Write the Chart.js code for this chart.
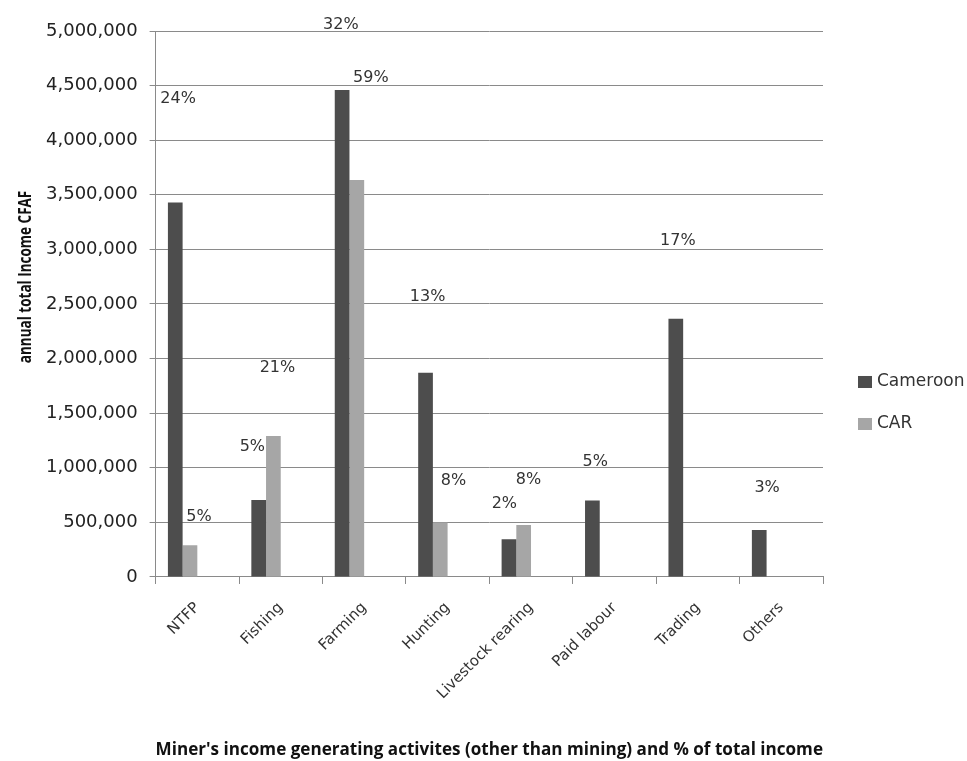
<!DOCTYPE html>
<html>
<head>
<meta charset="utf-8">
<script src="https://cdn.jsdelivr.net/npm/chart.js@4.4.1/dist/chart.umd.min.js"></script>
<style>
  html, body { margin: 0; padding: 0; background: #fff; }
  .chart-wrap { width: 967px; height: 761px; }
</style>
</head>
<body>
<div class="chart-wrap"><canvas id="incomeChart"></canvas></div>
<script>
/* income per activity, CFAF */
const categories = ['NTFP', 'Fishing', 'Farming', 'Hunting', 'Livestock rearing', 'Paid labour', 'Trading', 'Others'];
const cameroon   = [3430000, 705000, 4460000, 1870000, 345000, 700000, 2365000, 430000];
const car        = [290000, 1290000, 3635000, 500000, 475000, null, null, null];

/* % of total income, as typed on the chart, and the height (CFAF) where each one sits */
const cameroonShare  = ['24%', '5%', '32%', '13%', '2%', '5%', '17%', '3%'];
const cameroonShareY = [4380000, 1190000, 5055000, 2565000, 670000, 1055000, 3075000, 815000];
const carShare       = ['5%', '21%', '59%', '8%', '8%', null, null, null];
const carShareY      = [550000, 1915000, 4570000, 880000, 890000, null, null, null];

const yMax = 5000000;
const yStep = 500000;
const yTitle = 'annual total Income CFAF';
const xTitle = "Miner's income generating activites (other than mining) and % of total income";

/* the original had two more (empty) series, so bars sit left of centre */
const spacer = categories.map(() => null);

const GRID = '#8a8a8a';
const TEXT = '#333333';

/* horizontal nudge of each % label, in category widths */
const camDx = [-0.23, -0.34, -0.28, -0.24, -0.32, -0.23, -0.24, -0.17];
const carDx = [0.02, -0.04, 0.08, 0.07, -0.03, 0, 0, 0];

const shareLabels = {
  id: 'shareLabels',
  afterDatasetsDraw(chart) {
    const { ctx, scales: { x, y } } = chart;
    const w = x.getPixelForValue(1) - x.getPixelForValue(0);
    ctx.save();
    ctx.font = '16px "DejaVu Sans"';
    ctx.fillStyle = TEXT;
    ctx.textAlign = 'center';
    ctx.textBaseline = 'middle';
    categories.forEach((c, i) => {
      const cx = x.getPixelForValue(i);
      if (cameroonShare[i]) ctx.fillText(cameroonShare[i], cx + camDx[i] * w, y.getPixelForValue(cameroonShareY[i]));
      if (carShare[i]) ctx.fillText(carShare[i], cx + carDx[i] * w, y.getPixelForValue(carShareY[i]));
    });
    ctx.restore();
  }
};

/* legend to the right of the plot + the y title, which Excel had put above the middle */
const extras = {
  id: 'extras',
  afterDraw(chart) {
    const { ctx, chartArea } = chart;
    const x0 = chartArea.right + 35;
    let y0 = (chartArea.top + chartArea.bottom) / 2 + 78;
    ctx.save();
    ctx.font = '17px "DejaVu Sans"';
    ctx.textBaseline = 'middle';
    chart.data.datasets.filter(d => d.label).forEach(d => {
      ctx.fillStyle = d.backgroundColor;
      ctx.fillRect(x0, y0 - 6, 14, 12);
      ctx.fillStyle = TEXT;
      ctx.fillText(d.label, x0 + 19, y0);
      y0 += 42;
    });

    // picture was stretched sideways, so the rotated title looks tall
    ctx.translate(26, (chartArea.top + chartArea.bottom) / 2 - 27);
    ctx.rotate(-Math.PI / 2);
    ctx.scale(1, 1.25);
    ctx.font = 'bold 13.5px "Open Sans"';
    ctx.fillStyle = '#111';
    ctx.textAlign = 'center';
    ctx.textBaseline = 'middle';
    ctx.fillText(yTitle, 0, 0);
    ctx.restore();
  }
};

new Chart(document.getElementById('incomeChart'), {
  type: 'bar',
  data: {
    labels: categories,
    datasets: [
      { label: 'Cameroon', data: cameroon, backgroundColor: '#4d4d4d' },
      { label: 'CAR',      data: car,      backgroundColor: '#a6a6a6' },
      { label: '', data: spacer, backgroundColor: 'rgba(0,0,0,0)' },
      { label: '', data: spacer, backgroundColor: 'rgba(0,0,0,0)' }
    ]
  },
  options: {
    responsive: true,
    maintainAspectRatio: false,
    animation: false,
    datasets: { bar: { categoryPercentage: 0.705, barPercentage: 1.0 } },
    layout: { padding: { left: 34, top: 31, bottom: 0, right: 144 } },
    plugins: {
      tooltip: { enabled: false },
      legend: { display: false }
    },
    scales: {
      x: {
        grid: { display: true, drawOnChartArea: false, offset: true, color: GRID, tickLength: 7 },
        border: { color: GRID },
        ticks: {
          minRotation: 45, maxRotation: 45, autoSkip: false, padding: 15,
          color: TEXT, font: { family: '"DejaVu Sans"', size: 15 }
        },
        title: {
          display: true,
          text: xTitle,
          color: '#111',
          font: { family: '"Open Sans"', size: 18.5, weight: 'bold' },
          padding: { top: 21, bottom: 0 }
        }
      },
      y: {
        min: 0, max: yMax,
        grid: { color: GRID, tickLength: 6 },
        border: { color: GRID },
        ticks: {
          stepSize: yStep, padding: 12,
          color: '#222', font: { family: '"DejaVu Sans"', size: 18 },
          callback: v => v.toLocaleString('en-US')
        }
      }
    }
  },
  plugins: [shareLabels, extras]
});
</script>
</body>
</html>
